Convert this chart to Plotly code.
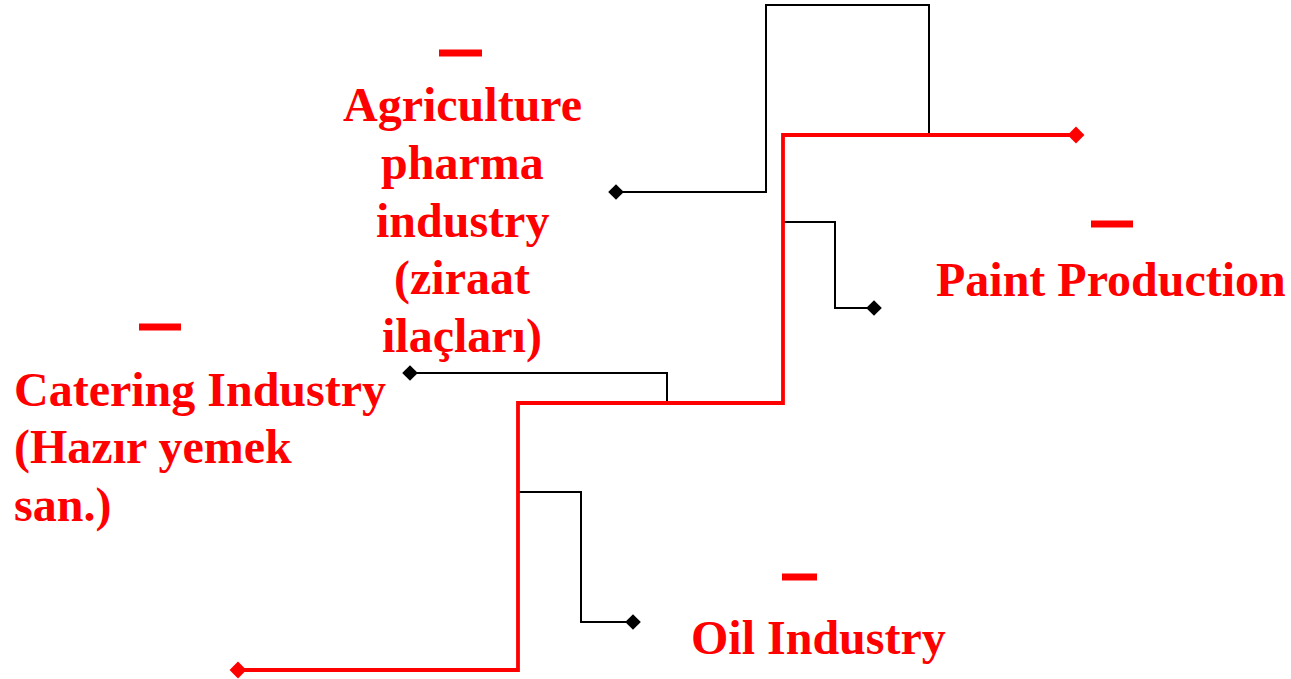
import plotly.graph_objects as go

W, H = 1291, 679

# Main (red) path vertices
red_x = [238, 518, 518, 783, 783, 1076]
red_y = [670, 670, 403, 403, 135, 135]

# Black branch paths
branch_oil_x = [518, 581, 581, 633]
branch_oil_y = [492, 492, 622, 622]
branch_cat_x = [667, 667, 410]
branch_cat_y = [403, 373, 373]
branch_paint_x = [783, 835, 835, 874]
branch_paint_y = [222, 222, 308, 308]
branch_agri_x = [929, 929, 766, 766, 616]
branch_agri_y = [135, 5, 5, 192, 192]

# Labels (lines), anchor x, first line center y, alignment
labels = [
    (["Agriculture", "pharma", "industry", "(ziraat", "ilaçları)"], 462, 104, "center"),
    (["Catering Industry", "(Hazır yemek", "san.)"], 12, 389, "left"),
    (["Paint Production"], 934, 279, "left"),
    (["Oil Industry"], 689, 637, "left"),
]
line_step = 58

# Red dashes above labels (x0, x1, y)
dashes_x0 = [439, 139, 1091, 782]
dashes_x1 = [482, 181, 1133, 817]
dashes_y = [53, 327, 224, 577]

fig = go.Figure()

for bx, by in [(branch_oil_x, branch_oil_y), (branch_cat_x, branch_cat_y),
               (branch_paint_x, branch_paint_y), (branch_agri_x, branch_agri_y)]:
    fig.add_trace(go.Scatter(x=bx, y=by, mode="lines",
                             line=dict(color="black", width=2), hoverinfo="skip"))
    fig.add_trace(go.Scatter(x=[bx[-1]], y=[by[-1]], mode="markers",
                             marker=dict(symbol="diamond", color="black", size=12),
                             hoverinfo="skip"))

fig.add_trace(go.Scatter(x=red_x, y=red_y, mode="lines",
                         line=dict(color="#ff0000", width=3.8), hoverinfo="skip"))
fig.add_trace(go.Scatter(x=[red_x[0], red_x[-1]], y=[red_y[0], red_y[-1]], mode="markers",
                         marker=dict(symbol="diamond", color="#ff0000", size=13),
                         hoverinfo="skip"))

for x0, x1, y in zip(dashes_x0, dashes_x1, dashes_y):
    fig.add_shape(type="line", x0=x0, x1=x1, y0=y, y1=y,
                  line=dict(color="#ff0000", width=7))

for lines, ax, ay, align in labels:
    for i, t in enumerate(lines):
        fig.add_annotation(x=ax, y=ay + i * line_step, text="<b>" + t + "</b>",
                           showarrow=False, xanchor=align, yanchor="middle",
                           font=dict(family="Liberation Serif, Times New Roman, serif",
                                     size=48, color="#ff0000"))

fig.update_layout(
    width=W, height=H, margin=dict(l=0, r=0, t=0, b=0),
    plot_bgcolor="white", paper_bgcolor="white", showlegend=False,
    xaxis=dict(range=[0, W], visible=False, fixedrange=True),
    yaxis=dict(range=[H, 0], visible=False, fixedrange=True),
)

fig.write_html("out.html", config={"displayModeBar": False},
               post_script="document.body.style.margin='0';")
